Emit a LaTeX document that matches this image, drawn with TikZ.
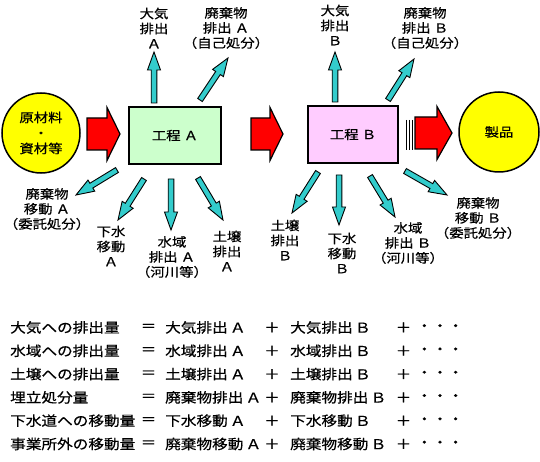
\documentclass[tikz,border=0pt]{standalone}
\usepackage{fontspec}
\newfontfamily\jpfont[FakeStretch=1.15,FakeBold=0.6]{Noto Sans CJK JP}
\usepackage{tikz}
\usetikzlibrary{calc,shapes.geometric}
\definecolor{CianSalida}{RGB}{51,204,204}
\definecolor{RojoFlujo}{RGB}{255,0,0}
\definecolor{AmarilloMat}{RGB}{255,255,0}
\definecolor{VerdeProceso}{RGB}{204,255,204}
\definecolor{RosaProceso}{RGB}{255,204,255}

% red block arrow: tail x, head base x, tip x, centre y
\newcommand{\flecha}[4]{%
  \draw[flujo] (#1,#4-16) -- (#2,#4-16) -- (#2,#4-26.5) -- (#3,#4)
    -- (#2,#4+26.5) -- (#2,#4+16) -- (#1,#4+16) -- cycle;}
% thin cyan arrow from one coordinate to another
\newcommand{\salidaflecha}[2]{%
  \coordinate (hb) at ($(#2)!18pt!(#1)$);
  \draw[salida] ($(#1)!2.8pt!90:(#2)$) -- ($(hb)!2.8pt!90:(#2)$)
    -- ($(hb)!6.5pt!90:(#2)$) -- (#2) -- ($(hb)!6.5pt!-90:(#2)$)
    -- ($(hb)!2.8pt!-90:(#2)$) -- ($(#1)!2.8pt!-90:(#2)$) -- cycle;}

\begin{document}
\begin{tikzpicture}[x=1pt,y=-1pt,line join=miter,
  proceso/.style={draw,line width=1.5pt,inner sep=0pt,minimum height=57pt,
    font=\jpfont\fontsize{12.5}{15}\selectfont},
  material/.style={draw,ellipse,line width=1.5pt,fill=AmarilloMat,inner sep=0pt,
    align=center,font=\jpfont\fontsize{12.5}{15.5}\selectfont},
  etiqueta/.style={align=center,inner sep=0pt,font=\jpfont\fontsize{12.5}{15}\selectfont},
  tabla/.style={anchor=west,inner sep=0pt,font=\jpfont\fontsize{13.6}{16}\selectfont},
  flujo/.style={draw,line width=1.2pt,fill=RojoFlujo},
  salida/.style={draw,line width=0.9pt,fill=CianSalida}]
  \useasboundingbox (0,0) rectangle (540,462);

  % materials, processes, product
  \node[material,minimum width=78pt,minimum height=80pt] (mat) at (41,133) {原材料\\・\\資材等};
  \node[proceso,fill=VerdeProceso,minimum width=92pt] (procA) at (175,135.5) {工程 Ａ};
  \node[proceso,fill=RosaProceso,minimum width=90pt] (procB) at (353,134.5) {工程 Ｂ};
  \node[material,minimum width=80pt,minimum height=80pt] (prod) at (499,132) {製品};

  \flecha{87}{107}{120}{134}
  \flecha{251}{270}{283}{134}
  \flecha{415}{437}{452}{133}
  \foreach \xx in {406,409,412}
    \draw[line width=0.5pt] (\xx,120) -- (\xx,150);

  % release / transfer labels
  \node[etiqueta] (lAireA) at (154,28) {大気\\排出\\Ａ};
  \node[etiqueta] (lResA) at (226,28) {廃棄物\\排出 Ａ\\（自己処分）};
  \node[etiqueta] (lAireB) at (335,25) {大気\\排出\\Ｂ};
  \node[etiqueta] (lResB) at (425,28) {廃棄物\\排出 Ｂ\\（自己処分）};
  \node[etiqueta] (lMovA) at (47,209) {廃棄物\\移動 Ａ\\（委託処分）};
  \node[etiqueta] (lDesA) at (111,246) {下水\\移動\\Ａ};
  \node[etiqueta] (lAguaA) at (172,257) {水域\\排出 Ａ\\（河川等）};
  \node[etiqueta] (lSueloA) at (227,251) {土壌\\排出\\Ａ};
  \node[etiqueta] (lSueloB) at (285,240) {土壌\\排出\\Ｂ};
  \node[etiqueta] (lDesB) at (342,253) {下水\\移動\\Ｂ};
  \node[etiqueta] (lAguaB) at (408,243) {水域\\排出 Ｂ\\（河川等）};
  \node[etiqueta] (lMovB) at (478,218) {廃棄物\\移動 Ｂ\\（委託処分）};

  % arrow ends
  \coordinate (aireA0) at (154,103);  \coordinate (aireA1) at (154,52);
  \coordinate (resA0) at (200,100);   \coordinate (resA1) at (228,58);
  \coordinate (aireB0) at (335,102);  \coordinate (aireB1) at (335,52);
  \coordinate (resB0) at (388,100);   \coordinate (resB1) at (414,59);
  \coordinate (movA0) at (117,170);   \coordinate (movA1) at (76,195);
  \coordinate (desA0) at (144,179);   \coordinate (desA1) at (118,220);
  \coordinate (aguaA0) at (171,179);  \coordinate (aguaA1) at (171,230);
  \coordinate (sueloA0) at (198,178); \coordinate (sueloA1) at (223,220);
  \coordinate (sueloB0) at (318,172); \coordinate (sueloB1) at (292,213);
  \coordinate (desB0) at (339,175);   \coordinate (desB1) at (339,225);
  \coordinate (aguaB0) at (370,176);  \coordinate (aguaB1) at (395,217);
  \coordinate (movB0) at (405,171);   \coordinate (movB1) at (447,195);
  \foreach \s in {aireA,resA,aireB,resB,movA,desA,aguaA,sueloA,sueloB,desB,aguaB,movB}{
    \salidaflecha{\s0}{\s1}
  }

  % totals
  \foreach \con/\ter [count=\i] in {大気への排出量/大気排出,水域への排出量/水域排出,
      土壌への排出量/土壌排出,埋立処分量/廃棄物排出,下水道への移動量/下水移動,
      事業所外の移動量/廃棄物移動}{
    \pgfmathsetmacro\yy{327.5+23.3*(\i-1)}
    \node[tabla] (con\i) at (10,\yy) {\con};
    \node[tabla,anchor=center] (igual\i) at (148.5,\yy) {＝};
    \node[tabla] (terA\i) at (165,\yy) {\ter\,Ａ};
    \node[tabla,anchor=center] (masA\i) at (272,\yy) {＋};
    \node[tabla] (terB\i) at (290,\yy) {\ter\,Ｂ};
    \node[tabla,anchor=center] (masB\i) at (403.5,\yy) {＋};
    \node[tabla,anchor=center] (resto\i) at (440,\yy) {・・・};
  }
\end{tikzpicture}
\end{document}
